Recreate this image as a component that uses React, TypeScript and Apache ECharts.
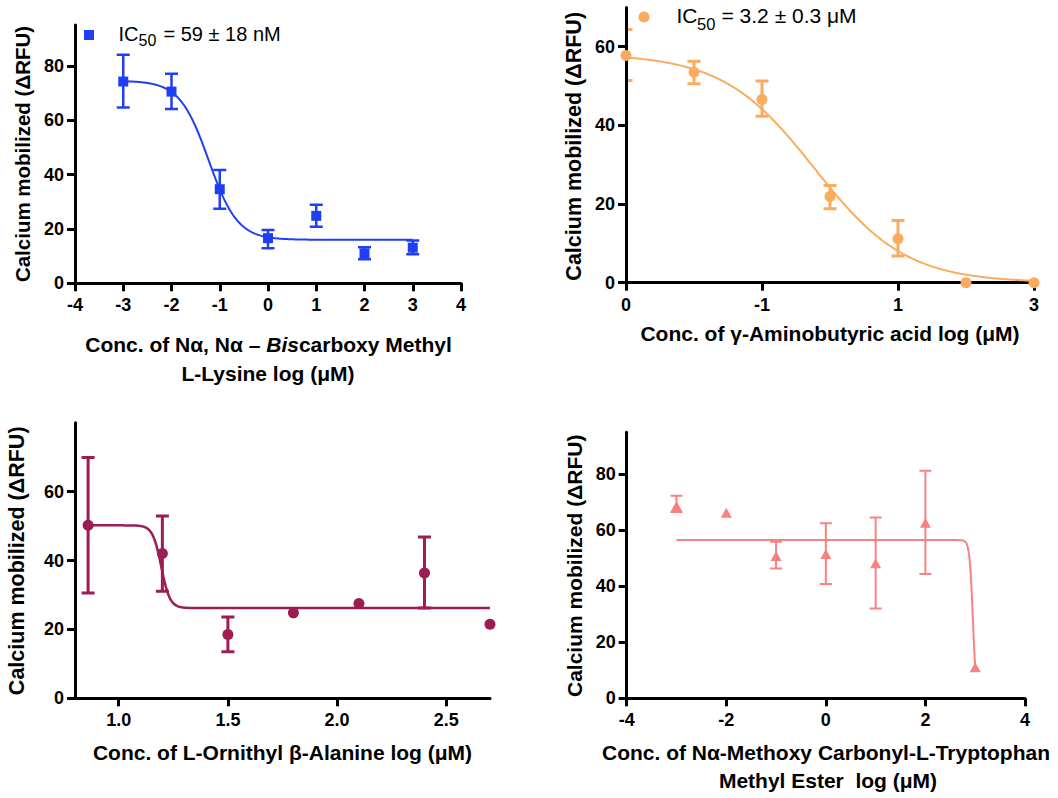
import React, { useEffect, useRef } from 'react';
import * as echarts from 'echarts';

// ---------- Panel A: Nα, Nα – Biscarboxy Methyl L-Lysine ----------
const lysX = [-3, -2, -1, 0, 1, 2, 3];
const lysY = [74.2, 70.5, 34.6, 16.6, 24.8, 11.0, 13.1];
const lysLo = [64.7, 64.1, 27.4, 12.9, 20.8, 8.8, 10.7];
const lysHi = [84.1, 77.1, 41.7, 19.6, 28.9, 13.3, 15.7];
const lysFit = [74.5, 16, -1.23, 1.45]; // top, bottom, logIC50, hill
const lysXTicks = [-4, -3, -2, -1, 0, 1, 2, 3, 4];
const lysYTicks = [0, 20, 40, 60, 80];

// ---------- Panel B: γ-Aminobutyric acid ----------
const gabaX = [-3, -2, -1, 0, 1, 2, 3];
const gabaY = [57.8, 53.5, 46.6, 21.9, 11.2, 0, 0];
const gabaLo = [51.4, 50.6, 42.3, 18.8, 6.8, null, null];
const gabaHi = [64.4, 56.3, 51.3, 24.7, 15.8, null, null];
const gabaFit = [58.2, 0, -0.23, 0.645];
const gabaXTicks = [-3, -1, 1, 3];
const gabaXTickLabels = ['0', '-1', '1', '3'];
const gabaYTicks = [0, 20, 40, 60];

// ---------- Panel C: L-Ornithyl β-Alanine ----------
const ornX = [0.86, 1.2, 1.5, 1.8, 2.1, 2.4, 2.7];
const ornY = [50.2, 42.0, 18.5, 24.8, 27.5, 36.4, 21.5];
const ornLo = [30.6, 31.1, 13.5, null, null, 26.2, null];
const ornHi = [69.9, 52.9, 23.6, null, null, 46.8, null];
const ornFit = [50.2, 26.2, 1.195, 22];
const ornXTicks = [1.0, 1.5, 2.0, 2.5];
const ornYTicks = [0, 20, 40, 60];

// ---------- Panel D: Nα-Methoxy Carbonyl-L-Tryptophan Methyl Ester ----------
const trpX = [-3, -2, -1, 0, 1, 2, 3];
const trpY = [68.7, 66.3, 50.8, 51.5, 48.2, 62.7, 11.1];
const trpLo = [66.5, null, 46.4, 40.8, 32.1, 44.4, null];
const trpHi = [72.3, null, 55.9, 62.5, 64.6, 81.3, null];
const trpFit = [56.5, 0, 2.953, 13];
const trpXTicks = [-4, -2, 0, 2, 4];
const trpYTicks = [0, 20, 40, 60, 80];

const FONT = '"Liberation Sans", Arial, Helvetica, sans-serif';
const BLUE = '#1f3ff5';
const ORANGE = '#f9ac5e';
const MAROON = '#9c1c54';
const SALMON = '#f88282';

function fitCurve(p: number[], x0: number, x1: number) {
  const [top, bottom, c, h] = p;
  const pts: number[][] = [];
  const n = 400;
  for (let i = 0; i <= n; i++) {
    const x = x0 + ((x1 - x0) * i) / n;
    pts.push([x, bottom + (top - bottom) / (1 + Math.pow(10, (x - c) * h))]);
  }
  return pts;
}

function xAxis(gi: number, min: number, max: number, ticks: number[], fmt: (v: number) => string) {
  return {
    type: 'value', gridIndex: gi, min, max, z: 2,
    axisLine: { show: true, onZero: false, lineStyle: { color: '#000', width: 3 } },
    axisTick: { show: true, length: 8, customValues: ticks, lineStyle: { color: '#000', width: 3 } },
    axisLabel: { show: true, customValues: ticks, formatter: fmt, color: '#000', fontSize: 18, fontWeight: 'bold', fontFamily: FONT, margin: 13 },
    splitLine: { show: false },
  };
}
function yAxis(gi: number, min: number, max: number, ticks: number[]) {
  return {
    type: 'value', gridIndex: gi, min, max, z: 2,
    axisLine: { show: true, onZero: false, lineStyle: { color: '#000', width: 3 } },
    axisTick: { show: true, length: 8, customValues: ticks, lineStyle: { color: '#000', width: 3 } },
    axisLabel: { show: true, customValues: ticks, color: '#000', fontSize: 18, fontWeight: 'bold', fontFamily: FONT, margin: 11 },
    splitLine: { show: false },
  };
}

function errSeries(gi: number, xs: number[], lo: (number | null)[], hi: (number | null)[], color: string, cap: number, w: number) {
  const data: number[][] = [];
  xs.forEach((x, i) => {
    if (lo[i] != null && hi[i] != null) data.push([x, lo[i] as number, hi[i] as number]);
  });
  return {
    type: 'custom', xAxisIndex: gi, yAxisIndex: gi, z: 1, clip: true,
    encode: { x: 0, y: [1, 2] },
    data,
    renderItem: (params: any, api: any) => {
      const x = api.value(0);
      const a = api.coord([x, api.value(1)]);
      const b = api.coord([x, api.value(2)]);
      const style = { stroke: color, lineWidth: w };
      return {
        type: 'group',
        children: [
          { type: 'line', shape: { x1: a[0], y1: a[1], x2: b[0], y2: b[1] }, style },
          { type: 'line', shape: { x1: a[0] - cap, y1: a[1], x2: a[0] + cap, y2: a[1] }, style },
          { type: 'line', shape: { x1: b[0] - cap, y1: b[1], x2: b[0] + cap, y2: b[1] }, style },
        ],
      };
    },
  };
}

function lineSeries(gi: number, data: number[][], color: string, w: number) {
  return {
    type: 'line', xAxisIndex: gi, yAxisIndex: gi, z: 3, data, showSymbol: false, symbol: 'none',
    lineStyle: { color, width: w }, silent: true,
  };
}
function pointSeries(gi: number, xs: number[], ys: number[], color: string, symbol: string, size: any) {
  return {
    type: 'scatter', xAxisIndex: gi, yAxisIndex: gi, z: 4, symbol, symbolSize: size,
    itemStyle: { color, opacity: 1 }, data: xs.map((x, i) => [x, ys[i]]), clip: false,
  };
}

function title(x: number, y: number, text: string, size: number, rotate = false, rich?: any) {
  return {
    type: 'text', x, y, rotation: rotate ? Math.PI / 2 : 0, z: 10,
    style: {
      text, fill: '#000', fontSize: size, fontWeight: 'bold', fontFamily: FONT,
      align: 'center', verticalAlign: 'middle', rich,
    },
  };
}
function plain(x: number, y: number, text: string, size: number) {
  return {
    type: 'text', x, y, z: 10,
    style: { text, fill: '#000', fontSize: size, fontFamily: FONT, align: 'left', verticalAlign: 'middle' },
  };
}

export default function App() {
  const ref = useRef<HTMLDivElement>(null);
  useEffect(() => {
    if (!ref.current) return;
    const chart = echarts.init(ref.current, null, { renderer: 'svg' });
    const num = (v: number) => String(v);
    const option: any = {
      animation: false,
      backgroundColor: '#fff',
      grid: [
        { left: 75, top: 25, width: 386, height: 258.3 },
        { left: 626, top: 7.4, width: 408, height: 275.3 },
        { left: 75, top: 422.7, width: 415, height: 275.6 },
        { left: 626.7, top: 432.3, width: 398.3, height: 266 },
      ],
      xAxis: [
        xAxis(0, -4, 4, lysXTicks, num),
        xAxis(1, -3, 3, gabaXTicks, (v: number) => gabaXTickLabels[gabaXTicks.indexOf(Math.round(v))] ?? ''),
        xAxis(2, 0.8, 2.7, ornXTicks, (v: number) => v.toFixed(1)),
        xAxis(3, -4, 4, trpXTicks, num),
      ],
      yAxis: [
        yAxis(0, 0, 95, lysYTicks),
        yAxis(1, 0, 70, gabaYTicks),
        yAxis(2, 0, 80, ornYTicks),
        yAxis(3, 0, 95, trpYTicks),
      ],
      series: [
        errSeries(0, lysX, lysLo, lysHi, BLUE, 6.5, 2.5),
        lineSeries(0, fitCurve(lysFit, -3, 3), BLUE, 2),
        pointSeries(0, lysX, lysY, BLUE, 'rect', 10),

        errSeries(1, gabaX, gabaLo, gabaHi, ORANGE, 6.5, 3),
        lineSeries(1, fitCurve(gabaFit, -3, 3), ORANGE, 2),
        pointSeries(1, gabaX, gabaY, ORANGE, 'circle', 11),

        errSeries(2, ornX, ornLo, ornHi, MAROON, 6.5, 3),
        lineSeries(2, fitCurve(ornFit, 0.86, 2.7), MAROON, 2.5),
        pointSeries(2, ornX, ornY, MAROON, 'circle', 11),

        errSeries(3, trpX, trpLo, trpHi, SALMON, 6, 2),
        lineSeries(3, fitCurve(trpFit, -3, 3), SALMON, 2),
        pointSeries(3, trpX, trpY, SALMON, 'triangle', [11, 10]),
      ],
      graphic: [
        // Panel A titles & legend
        title(22.5, 154, 'Calcium mobilized (ΔRFU)', 20.5, true),
        title(268.5, 344, '{b|Conc. of Nα, Nα – }{i|Bis}{b|carboxy Methyl}', 21, false, {
          b: { fontSize: 21, fontWeight: 'bold', fontFamily: FONT, fill: '#000' },
          i: { fontSize: 21, fontWeight: 'bold', fontStyle: 'italic', fontFamily: FONT, fill: '#000' },
        }),
        title(268, 373, 'L-Lysine log (μM)', 21),
        { type: 'rect', z: 10, shape: { x: 84, y: 30, width: 10, height: 10 }, style: { fill: BLUE } },
        plain(118.5, 33.7, 'IC', 20),
        plain(138.5, 40.5, '50', 16),
        plain(163.5, 33.7, '= 59 ± 18 nM', 20),

        // Panel B
        title(573.8, 146.3, 'Calcium mobilized (ΔRFU)', 21.5, true),
        title(830, 333.3, 'Conc. of γ-Aminobutyric acid log (μM)', 21),
        { type: 'circle', z: 10, shape: { cx: 644, cy: 17, r: 5.5 }, style: { fill: ORANGE } },
        plain(676.5, 15.3, 'IC', 21),
        plain(697, 23.5, '50', 16.5),
        plain(721.5, 15.3, '= 3.2 ± 0.3 μM', 21),

        // Panel C
        title(17.2, 560.8, 'Calcium mobilized (ΔRFU)', 21.5, true),
        title(282.5, 752.7, 'Conc. of L-Ornithyl β-Alanine log (μM)', 21),

        // Panel D
        title(574.2, 565.8, 'Calcium mobilized (ΔRFU)', 21, true),
        title(826, 752.3, 'Conc. of Nα-Methoxy Carbonyl-L-Tryptophan', 21),
        title(828, 780, 'Methyl Ester  log (μM)', 21),
      ],
    };
    chart.setOption(option);
    return () => chart.dispose();
  }, []);
  return (
    <div
      ref={ref}
      style={{ position: 'fixed', left: 0, top: 0, width: 1058, height: 798, background: '#fff' }}
    />
  );
}
